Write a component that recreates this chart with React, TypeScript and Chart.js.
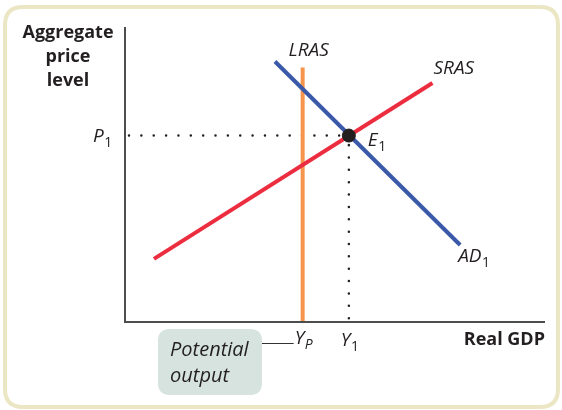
import React, { useEffect, useRef } from "react";
import { Chart, registerables } from "chart.js";

Chart.register(...registerables);

// Data in chart units (x: real GDP 0..100, y: price level 0..100)
const lrasX = 42.3;
const lrasTop = 86.3;
const srasX = [6.9, 73.2];
const srasY = [21.4, 81.0];
const adX = [35.7, 79.8];
const adY = [88.3, 26.1];
const e1 = { x: 53.3, y: 63.2 };
const axisLabels = { y: ["Aggregate", "price", "level"], x: "Real GDP" };
const curveLabels = { lras: "LRAS", sras: "SRAS", ad: "AD", e: "E", p: "P", y: "Y" };
const noteLines = ["Potential", "output"];

const FONT = "'Open Sans', 'DejaVu Sans', sans-serif";
const TEXT = "#231f20";

function subText(ctx: CanvasRenderingContext2D, main: string, sub: string, x: number, y: number, size = 19, italicSub = false) {
  ctx.save();
  ctx.fillStyle = TEXT;
  ctx.textBaseline = "middle";
  ctx.textAlign = "left";
  ctx.font = `italic ${size}px ${FONT}`;
  ctx.fillText(main, x, y);
  const w = ctx.measureText(main).width;
  ctx.font = `${italicSub ? "italic " : ""}${Math.round(size * 0.72)}px ${FONT}`;
  ctx.fillText(sub, x + w + 0.5, y + 6);
  ctx.restore();
}

function roundRect(ctx: CanvasRenderingContext2D, x: number, y: number, w: number, h: number, r: number) {
  ctx.beginPath();
  ctx.moveTo(x + r, y);
  ctx.lineTo(x + w - r, y);
  ctx.quadraticCurveTo(x + w, y, x + w, y + r);
  ctx.lineTo(x + w, y + h - r);
  ctx.quadraticCurveTo(x + w, y + h, x + w - r, y + h);
  ctx.lineTo(x + r, y + h);
  ctx.quadraticCurveTo(x, y + h, x, y + h - r);
  ctx.lineTo(x, y + r);
  ctx.quadraticCurveTo(x, y, x + r, y);
  ctx.closePath();
}

const decor = {
  id: "decor",
  beforeDraw(chart: any) {
    const ctx = chart.ctx as CanvasRenderingContext2D;
    ctx.save();
    ctx.fillStyle = "#ffffff";
    ctx.fillRect(0, 0, chart.width, chart.height);
    ctx.strokeStyle = "#ebe6c3";
    ctx.lineWidth = 4;
    roundRect(ctx, 5, 7, 553, 400, 18);
    ctx.stroke();
    ctx.restore();
  },
  afterDatasetsDraw(chart: any) {
    const ctx = chart.ctx as CanvasRenderingContext2D;
    const xs = chart.scales.x;
    const ys = chart.scales.y;
    const x0 = xs.getPixelForValue(0);
    const y0 = ys.getPixelForValue(0);
    const xMax = xs.getPixelForValue(100);
    const yMax = ys.getPixelForValue(100);
    ctx.save();
    ctx.strokeStyle = "#4d4d4d";
    ctx.lineWidth = 2;
    ctx.beginPath();
    ctx.moveTo(x0, yMax);
    ctx.lineTo(x0, y0);
    ctx.lineTo(xMax, y0);
    ctx.stroke();

    // Axis titles
    ctx.fillStyle = TEXT;
    ctx.textBaseline = "middle";
    ctx.textAlign = "center";
    ctx.font = `bold 18px ${FONT}`;
    axisLabels.y.forEach((t, i) => ctx.fillText(t, 68, 33 + i * 24));
    ctx.textAlign = "right";
    ctx.fillText(axisLabels.x, xMax, 340);

    // Curve labels
    ctx.font = `italic 19px ${FONT}`;
    const lx = xs.getPixelForValue(lrasX);
    ctx.textAlign = "center";
    ctx.fillText(curveLabels.lras, lx + 6, 51);
    ctx.textAlign = "left";
    ctx.fillText(curveLabels.sras, xs.getPixelForValue(srasX[1]) + 1, 69);

    const ex = xs.getPixelForValue(e1.x);
    const ey = ys.getPixelForValue(e1.y);
    subText(ctx, curveLabels.e, "1", ex + 19, ey + 5);
    subText(ctx, curveLabels.ad, "1", xs.getPixelForValue(adX[1]) - 2, ys.getPixelForValue(adY[1]) + 12);
    subText(ctx, curveLabels.p, "1", x0 - 32, ey + 1);
    subText(ctx, curveLabels.y, "1", ex - 8, y0 + 19);
    subText(ctx, curveLabels.y, "P", lx - 8, y0 + 17, 19, true);

    // Potential output note
    ctx.fillStyle = "#d6e3df";
    roundRect(ctx, 158, 329, 104, 66, 12);
    ctx.fill();
    ctx.strokeStyle = "#333";
    ctx.lineWidth = 1;
    ctx.beginPath();
    ctx.moveTo(262, 343.5);
    ctx.lineTo(lx - 9, 343.5);
    ctx.stroke();
    ctx.fillStyle = TEXT;
    ctx.textAlign = "left";
    ctx.font = `italic 20px ${FONT}`;
    ctx.fillText(noteLines[0], 170, 350);
    ctx.fillText(noteLines[1], 170, 376);
    ctx.restore();
  },
};

export default function App() {
  const ref = useRef<HTMLCanvasElement | null>(null);
  useEffect(() => {
    if (!ref.current) return;
    const dotted = {
      borderColor: "#231f20",
      borderWidth: 2.5,
      borderDash: [0.01, 12.35],
      borderCapStyle: "round" as const,
      pointRadius: 0,
      showLine: true,
      fill: false,
      order: 5,
    };
    const chart = new Chart(ref.current, {
      type: "scatter",
      data: {
        datasets: [
          { ...dotted, data: [{ x: 0.95, y: e1.y }, { x: e1.x, y: e1.y }] },
          { ...dotted, data: [{ x: e1.x, y: 1.3 }, { x: e1.x, y: e1.y }] },
          {
            data: [{ x: lrasX, y: 0 }, { x: lrasX, y: lrasTop }],
            borderColor: "#f7944b",
            borderWidth: 4,
            showLine: true,
            pointRadius: 0,
            borderCapStyle: "butt",
            order: 4,
          },
          {
            data: adX.map((x, i) => ({ x, y: adY[i] })),
            borderColor: "#3a59a8",
            borderWidth: 4,
            showLine: true,
            pointRadius: 0,
            borderCapStyle: "butt",
            order: 3,
          },
          {
            data: srasX.map((x, i) => ({ x, y: srasY[i] })),
            borderColor: "#ec2c3f",
            borderWidth: 4,
            showLine: true,
            pointRadius: 0,
            borderCapStyle: "butt",
            order: 2,
          },
          {
            data: [{ x: e1.x, y: e1.y }],
            pointRadius: 6.5,
            pointBackgroundColor: "#231f20",
            pointBorderColor: "#231f20",
            showLine: false,
            order: 0,
          },
        ],
      },
      options: {
        responsive: false,
        animation: false,
        layout: { padding: { left: 125, right: 17, top: 27, bottom: 88 } },
        scales: {
          x: { type: "linear", min: 0, max: 100, display: false },
          y: { type: "linear", min: 0, max: 100, display: false },
        },
        plugins: { legend: { display: false }, tooltip: { enabled: false } },
        events: [],
      },
      plugins: [decor],
    });
    return () => chart.destroy();
  }, []);
  return (
    <div style={{ position: "absolute", left: 0, top: 0, width: 562, height: 410 }}>
      <canvas ref={ref} width={562} height={410} style={{ display: "block" }} />
    </div>
  );
}
